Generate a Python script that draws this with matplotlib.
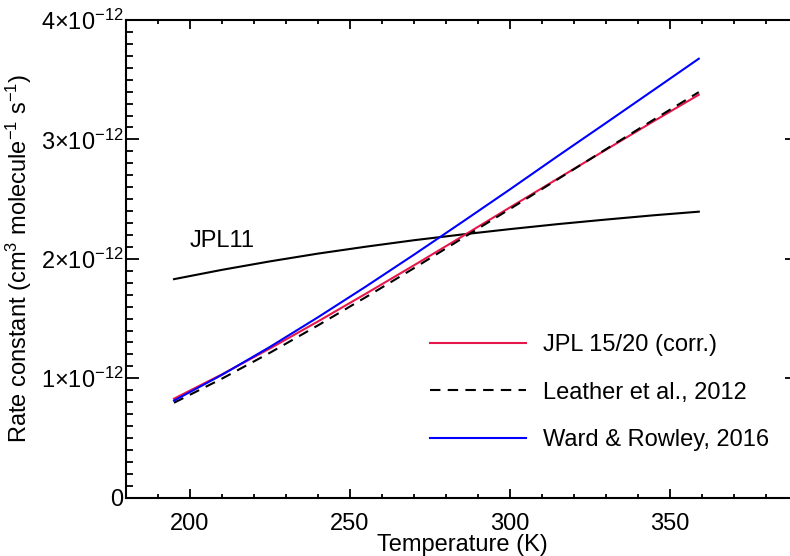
import numpy as np
import matplotlib
matplotlib.use('Agg')
from matplotlib import pyplot as plt
from matplotlib.ticker import MultipleLocator, FuncFormatter

plt.rcParams['font.family'] = ['Liberation Sans', 'DejaVu Sans']
plt.rcParams['mathtext.fontset'] = 'custom'
plt.rcParams['mathtext.rm'] = 'Liberation Sans'
plt.rcParams['mathtext.it'] = 'Liberation Sans:italic'

# temperature grid (K) and rate constants, in 1e-12 cm3/molecule/s
temp = [195, 210, 225, 240, 255, 270, 285, 300, 315, 330, 345, 359]
jpl11 = [1.830, 1.908, 1.979, 2.044, 2.102, 2.156, 2.204, 2.249, 2.291, 2.329, 2.365, 2.395]
jpl15 = [0.829, 1.033, 1.250, 1.476, 1.709, 1.946, 2.187, 2.431, 2.673, 2.914, 3.154, 3.374]
leather = [0.795, 0.997, 1.214, 1.443, 1.680, 1.922, 2.170, 2.418, 2.668, 2.918, 3.167, 3.396]
ward = [0.813, 1.029, 1.263, 1.511, 1.769, 2.035, 2.307, 2.582, 2.862, 3.138, 3.416, 3.676]

fs = 17
W, H = 790, 556
fig = plt.figure(figsize=(W / 100, H / 100), dpi=100)
# right axis sits just outside the picture, as in the original
ax = fig.add_axes([126 / W, 1 - 497.7 / H, 672 / W, 477.7 / H])

lw = 1.5
ax.plot(temp, jpl11, color='black', lw=lw)
ax.plot(temp, jpl15, color='#e8174b', lw=lw, label='JPL 15/20 (corr.)')
ax.plot(temp, leather, color='black', lw=lw, dashes=(5, 3.5), label='Leather et al., 2012')
ax.plot(temp, ward, color='#0000ff', lw=lw, label='Ward & Rowley, 2016')

ax.text(200, 2.15, 'JPL11', fontsize=fs, va='center', ha='left')

ax.set_xlim(180, 390)
ax.set_ylim(0, 4)
ax.xaxis.set_major_locator(MultipleLocator(50))
ax.xaxis.set_minor_locator(MultipleLocator(10))
ax.yaxis.set_major_locator(MultipleLocator(1))
ax.yaxis.set_minor_locator(MultipleLocator(0.1))


def ylab(v, pos):
    if v == 0:
        return '0'
    return '%d×10$^{\\mathregular{-12}}$' % int(round(v))


ax.yaxis.set_major_formatter(FuncFormatter(ylab))

for s in ax.spines.values():
    s.set_linewidth(1.5)
ax.tick_params(axis='both', which='both', direction='in', top=True, right=True,
               width=1.3, labelsize=fs)
ax.tick_params(axis='x', which='major', length=6.5, pad=11)
ax.tick_params(axis='x', which='minor', length=3.2)
ax.tick_params(axis='y', which='major', length=9.7, pad=2)
ax.tick_params(axis='y', which='minor', length=4.8)

ax.set_xlabel('Temperature (K)', fontsize=fs)
ax.set_ylabel(r'Rate constant (cm$^{\mathregular{3}}$ molecule$^{\mathregular{-1}}$ s$^{\mathregular{-1}}$)',
              fontsize=fs)
ax.xaxis.set_label_coords((462 - 126) / 672, (497.7 - 534) / 477.7)
ax.yaxis.set_label_coords((34 - 126) / 672, (497.7 - 258) / 477.7)

ax.legend(loc='upper left', bbox_to_anchor=(430 / W, 1 - 334 / H), bbox_transform=fig.transFigure,
          frameon=False, fontsize=fs, handlelength=4.07, handletextpad=0.72,
          labelspacing=1.09, borderpad=0, borderaxespad=0)

fig.savefig('out.png', dpi=100)
